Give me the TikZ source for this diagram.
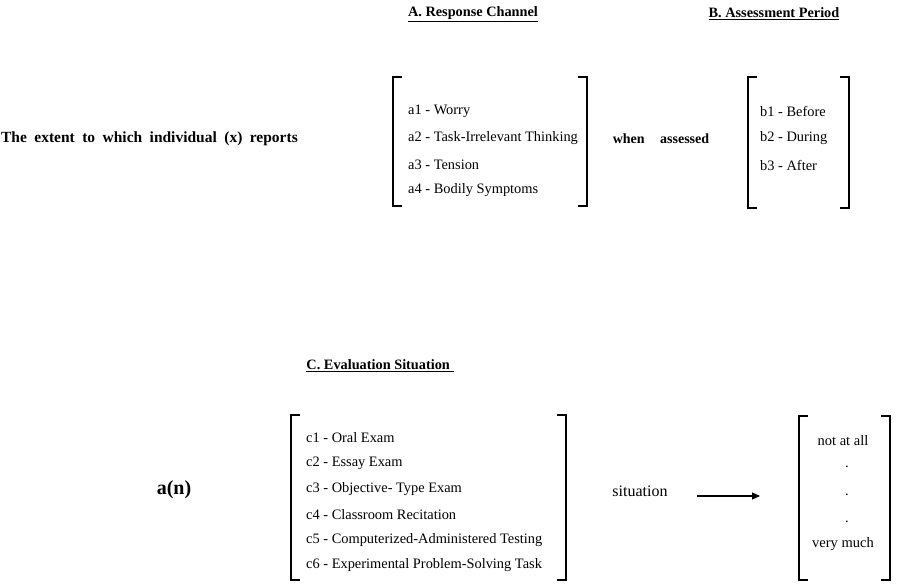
\documentclass[tikz,border=0pt]{standalone}
\usepackage{fontspec}
\setmainfont{Liberation Serif}
\usetikzlibrary{positioning,arrows.meta,calc}

% square brackets round a list, from its top left to its bottom right corner
\newcommand{\sqbrackets}[2]{%
  \draw[bracket] ($(#1)+(9,0)$) -- (#1) -- (#1 |- #2) -- ($(#1 |- #2)+(9,0)$);
  \draw[bracket] ($(#2 |- #1)+(-9,0)$) -- (#2 |- #1) -- (#2) -- ($(#2)+(-9,0)$);}

\begin{document}
\begin{tikzpicture}[x=1pt, y=-1pt,
    heading/.style={inner sep=0pt, font=\bfseries\fontsize{14.3}{16}\selectfont},
    item/.style={anchor=west, inner sep=0pt, font=\fontsize{14.4}{16}\selectfont},
    lead/.style={inner sep=0pt, font=\bfseries\fontsize{15.5}{18}\selectfont,
      execute at begin node={\spaceskip=0.48em\relax}},
    plain/.style={inner sep=0pt, font=\fontsize{14.5}{16}\selectfont},
    bracket/.style={line width=1.4pt},
    arrow/.style={-{Triangle[length=8pt,width=7pt]}, line width=1.1pt}
]
\useasboundingbox (0,0) rectangle (903,587);

% upper line
\node[heading] (headA) at (473,14) {\underline{A. Response Channel}};
\node[heading] (headB) at (774,14) {\underline{B. Assessment Period}};
\node[lead, anchor=east] (extent) at (298,139) {The extent to which individual (x) reports};

\coordinate (chanNW) at (393,77);
\coordinate (chanSE) at (587,206);
\sqbrackets{chanNW}{chanSE}
\node[item] (a1) at (408,111) {a1 - Worry};
\node[item, below=27pt of a1.west, anchor=west] (a2) {a2 - Task-Irrelevant Thinking};
\node[item, below=27pt of a2.west, anchor=west] (a3) {a3 - Tension};
\node[item, below=25pt of a3.west, anchor=west] (a4) {a4 - Bodily Symptoms};

\node[lead, font=\bfseries\fontsize{14}{16}\selectfont] (assessed) at (661,139) {when\hspace{1.1em}assessed};

\coordinate (periodNW) at (748,77);
\coordinate (periodSE) at (849,208);
\sqbrackets{periodNW}{periodSE}
\node[item] (b1) at (760,111) {b1 - Before};
\node[item, below=27pt of b1.west, anchor=west] (b2) {b2 - During};
\node[item, below=27pt of b2.west, anchor=west] (b3) {b3 - After};

% lower line
\node[heading] (headC) at (380,366) {\underline{C. Evaluation Situation\ }};
\node[lead, font=\bfseries\fontsize{20}{22}\selectfont] (an) at (174,490) {a(n)};

\coordinate (situNW) at (291,415);
\coordinate (situSE) at (566,580);
\sqbrackets{situNW}{situSE}
\node[item] (c1) at (306,438) {c1 - Oral Exam};
\node[item, below=25.5pt of c1.west, anchor=west] (c2) {c2 - Essay Exam};
\node[item, below=25.5pt of c2.west, anchor=west] (c3) {c3 - Objective- Type Exam};
\node[item, below=25.5pt of c3.west, anchor=west] (c4) {c4 - Classroom Recitation};
\node[item, below=25.5pt of c4.west, anchor=west] (c5) {c5 - Computerized-Administered Testing};
\node[item, below=25.5pt of c5.west, anchor=west] (c6) {c6 - Experimental Problem-Solving Task};

\node[plain, font=\fontsize{16}{18}\selectfont] (situation) at (640,491) {situation};
\coordinate (arrowtail) at (697,496);
\coordinate (arrowtip) at (760,496);
\draw[arrow] (arrowtail) -- (arrowtip);

\coordinate (scaleNW) at (799,416);
\coordinate (scaleSE) at (890,580);
\sqbrackets{scaleNW}{scaleSE}
\node[plain] (low) at (843,441) {not at all};
\node[plain] (dot1) at (847,467) {.};
\node[plain] (dot2) at (847,495) {.};
\node[plain] (dot3) at (847,522) {.};
\node[plain] (high) at (843,544) {very much};
\end{tikzpicture}
\end{document}
